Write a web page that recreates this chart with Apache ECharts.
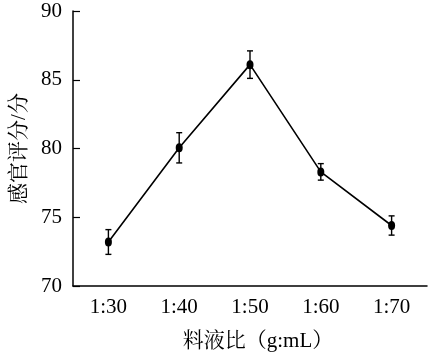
<!DOCTYPE html>
<html><head><meta charset="utf-8">
<script src="https://cdn.jsdelivr.net/npm/echarts@6/dist/echarts.min.js"></script>
<style>html,body{margin:0;padding:0;background:#fff}#c{width:428px;height:358px}</style>
</head><body><div id="c"></div>
<script>
const categories = ['1:30', '1:40', '1:50', '1:60', '1:70'];
const scores = [73.2, 80.05, 86.1, 78.3, 74.4];
const errors = [0.9, 1.1, 1.0, 0.6, 0.7];
const yTicks = [70, 75, 80, 85, 90];

const serif = '"Liberation Serif", "Times New Roman", "Noto Serif CJK SC", "Noto Sans CJK SC", serif';
const chart = echarts.init(document.getElementById('c'));
const errData = categories.map((c, i) => [i, scores[i] - errors[i], scores[i] + errors[i]]);
chart.setOption({
  animation: false,
  grid: {left: 73, right: 1, top: 11, bottom: 72, containLabel: false},
  xAxis: {
    type: 'category', data: categories, boundaryGap: true,
    name: '料液比（g:mL）', nameLocation: 'middle', nameGap: 45,
    nameTextStyle: {fontFamily: serif, fontSize: 21, color: '#000', padding: [0, 0, 0, 16]},
    axisLine: {lineStyle: {color: '#000', width: 1.5}},
    axisTick: {inside: true, alignWithLabel: true, length: 7, lineStyle: {color: '#000', width: 1.2}},
    axisLabel: {fontFamily: serif, fontSize: 21, color: '#000', margin: 11}
  },
  yAxis: {
    type: 'value', min: 70, max: 90, interval: 5,
    name: '感官评分/分', nameLocation: 'middle', nameGap: 42, nameRotate: 90,
    nameTextStyle: {fontFamily: serif, fontSize: 21, color: '#000'},
    axisLine: {show: true, lineStyle: {color: '#000', width: 1.5}},
    axisTick: {show: true, inside: true, length: 7, lineStyle: {color: '#000', width: 1.2}},
    splitLine: {show: false},
    axisLabel: {fontFamily: serif, fontSize: 21, color: '#000', margin: 11,
      formatter: v => yTicks.includes(v) ? String(v) : ''}
  },
  series: [
    {
      type: 'line', data: scores, symbol: 'circle', symbolSize: [7, 9],
      itemStyle: {color: '#000'}, lineStyle: {color: '#000', width: 1.6}, z: 3
    },
    {
      type: 'custom', data: errData, z: 4,
      renderItem: function (params, api) {
        const x = api.coord([api.value(0), api.value(1)])[0];
        const lo = api.coord([api.value(0), api.value(1)])[1];
        const hi = api.coord([api.value(0), api.value(2)])[1];
        const w = 3;
        const st = {stroke: '#000', lineWidth: 1.4};
        return {type: 'group', children: [
          {type: 'line', shape: {x1: x, y1: lo, x2: x, y2: hi}, style: st},
          {type: 'line', shape: {x1: x - w, y1: lo, x2: x + w, y2: lo}, style: st},
          {type: 'line', shape: {x1: x - w, y1: hi, x2: x + w, y2: hi}, style: st}
        ]};
      }
    }
  ]
});
</script></body></html>
